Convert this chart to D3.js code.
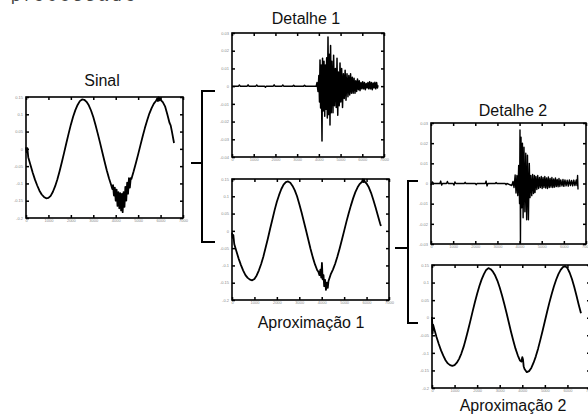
<!DOCTYPE html>
<html>
<head>
<meta charset="utf-8">
<script src="https://cdn.jsdelivr.net/npm/d3@7"></script>
<style>
body{margin:0;background:#fff;}
svg{display:block;}
</style>
</head>
<body>
<div id="chart"></div>
<script>
//Tick values shared by the panels
var xTicks=[0,1000,2000,3000,4000,5000,6000,7000];
var aproxTicks=[-0.2,-0.15,-0.1,-0.05,0,0.05,0.1,0.15];
var det1Ticks=[-0.04,-0.03,-0.02,-0.01,0,0.01,0.02,0.03];
var det2Ticks=[-0.03,-0.02,-0.01,0,0.01,0.02,0.03];

//Original signal [sample, value]
var sinal=[[0,0.004],[30,-0.01],[60,0.002],[100,-0.024],[200,-0.047],[300,-0.069],[400,-0.089],[500,-0.106],
 [600,-0.121],[700,-0.132],[800,-0.139],[900,-0.143],[1000,-0.142],[1100,-0.136],[1200,-0.124],[1300,-0.108],
 [1400,-0.088],[1500,-0.064],[1600,-0.038],[1700,-0.011],[1800,0.017],[1900,0.044],[2000,0.070],[2100,0.093],
 [2200,0.112],[2300,0.127],[2400,0.138],[2500,0.143],[2600,0.142],[2700,0.136],[2800,0.126],[2900,0.111],
 [3000,0.092],[3100,0.069],[3200,0.044],[3300,0.018],[3400,-0.009],[3500,-0.036],[3600,-0.062],[3700,-0.085],
 [3800,-0.105],[3850,-0.116],[3880,-0.105],[3920,-0.135],[3960,-0.112],[4000,-0.150],[4040,-0.118],[4080,-0.165],
 [4120,-0.125],[4160,-0.172],[4200,-0.128],[4240,-0.178],[4280,-0.130],[4310,-0.183],[4350,-0.125],[4390,-0.168],
 [4430,-0.110],[4470,-0.150],[4510,-0.098],[4550,-0.130],[4590,-0.085],[4630,-0.112],[4670,-0.085],[4700,-0.087],
 [4800,-0.065],[4900,-0.041],[5000,-0.016],[5100,0.010],[5200,0.036],[5300,0.060],[5400,0.082],[5500,0.102],
 [5600,0.118],[5700,0.131],[5800,0.139],[5850,0.146],[5880,0.138],[5910,0.149],[5940,0.140],[5970,0.147],
 [6000,0.142],[6100,0.135],[6200,0.123],[6300,0.100],[6400,0.075],[6450,0.068],[6500,0.052],[6600,0.017]];

//Level 1 detail
var detalhe1=[[0,0],[300,0],[340,0.0006],[380,0],[700,0],[740,0.0007],[780,0],[1100,0],[1140,0.0006],[1180,0],
 [1500,0],[1540,-0.0006],[1580,0],[1900,0],[1940,0.0007],[1980,0],[2300,0],[2340,0.0006],[2380,0],[2800,0],
 [2840,0.0005],[2880,0],[3300,0],[3340,0.0005],[3380,0],[3880,0],[3914,0.002],[3960,-0.003],[4000,0.006],[4030,-0.009],[4053,0.0147],
 [4080,-0.0124],[4110,0.012],[4145,-0.031],[4170,0.0158],[4200,-0.014],[4237,0.014],[4270,-0.017],[4300,0.012],
 [4330,-0.013],[4360,0.016],[4390,-0.018],[4421,0.0277],[4450,-0.016],[4480,0.018],[4513,-0.022],[4540,0.023],
 [4570,-0.015],[4600,0.014],[4651,-0.015],[4680,0.0175],[4720,-0.011],[4760,0.010],[4800,-0.012],[4836,0.0158],
 [4870,-0.0164],[4900,0.008],[4940,-0.011],[4974,0.013],[5010,-0.009],[5050,0.010],[5090,-0.012],[5130,0.007],
 [5170,-0.007],[5210,0.009],[5250,-0.008],[5296,0.007],[5340,-0.006],[5380,0.006],[5420,-0.005],[5460,0.007],
 [5500,-0.004],[5540,0.005],[5580,-0.004],[5620,0.0045],[5664,-0.004],[5700,0.003],[5740,-0.003],[5780,0.004],
 [5820,-0.002],[5860,0.003],[5895,-0.0025],[5940,0.002],[5980,-0.0015],[6020,0.0025],[6060,-0.0015],[6100,0.002],
 [6140,-0.002],[6180,0.0015],[6220,-0.001],[6260,0.002],[6300,-0.0015],[6340,0.0025],[6380,-0.0015],[6420,0.002],
 [6460,-0.002],[6500,0.0018],[6540,-0.001],[6580,0.0022],[6620,-0.0015],[6660,0.002],[6700,-0.001],[6724,0.0005]];

//Level 1 approximation
var aprox1=[[0,-0.005],[30,-0.02],[60,-0.012],[100,-0.038],[200,-0.060],[300,-0.081],[400,-0.099],[500,-0.115],
 [600,-0.128],[700,-0.136],[800,-0.141],[900,-0.143],[1000,-0.139],[1100,-0.129],[1200,-0.114],[1300,-0.096],
 [1400,-0.074],[1500,-0.048],[1600,-0.022],[1700,0.006],[1800,0.033],[1900,0.060],[2000,0.084],[2100,0.104],
 [2200,0.121],[2300,0.134],[2400,0.141],[2500,0.143],[2600,0.139],[2700,0.130],[2800,0.117],[2900,0.100],
 [3000,0.078],[3100,0.054],[3200,0.028],[3300,0.002],[3400,-0.025],[3500,-0.052],[3600,-0.076],[3700,-0.097],
 [3800,-0.114],[3850,-0.118],[3900,-0.128],[3940,-0.112],[3980,-0.135],[4010,-0.093],[4040,-0.140],[4080,-0.128],
 [4110,-0.160],[4150,-0.142],[4190,-0.171],[4230,-0.150],[4270,-0.165],[4300,-0.146],[4400,-0.126],[4500,-0.112],
 [4600,-0.095],[4700,-0.074],[4800,-0.051],[4900,-0.026],[5000,0.000],[5100,0.026],[5200,0.050],[5300,0.073],
 [5400,0.094],[5500,0.112],[5600,0.126],[5700,0.136],[5800,0.142],[5830,0.149],[5860,0.141],[5890,0.148],
 [5920,0.142],[6000,0.137],[6100,0.126],[6200,0.110],[6300,0.090],[6400,0.068],[6500,0.045],[6600,0.022],[6640,0.014]];

//Level 2 detail
var detalhe2=[[0,-0.0008],[60,0.0008],[120,0],[400,0],[440,0.0012],[480,-0.0008],[520,0],[700,0],[740,0.001],
 [780,0],[1000,0],[1040,-0.0008],[1080,0.0008],[1120,0],[1500,0],[1540,0.0006],[1580,0],[2000,0],[2040,-0.0006],
 [2080,0],[2450,0],[2490,0.0012],[2530,-0.0012],[2570,0],[2900,0],[2940,0.0005],[2980,0],[3350,0],[3390,-0.0006],
 [3430,0],[3650,-0.001],[3703,0.001],[3750,-0.002],[3800,0.0042],[3839,-0.0047],[3880,0.004],[3920,-0.006],[3960,0.009],
 [4000,-0.010],[4019,0.0265],[4040,-0.0295],[4065,0.023],[4100,-0.012],[4130,0.020],[4160,-0.017],[4200,0.018],
 [4240,-0.014],[4280,0.015],[4320,-0.018],[4358,0.014],[4400,-0.018],[4440,0.010],[4471,-0.007],[4510,0.004],
 [4550,-0.006],[4590,0.0045],[4630,-0.005],[4670,0.004],[4697,-0.0045],[4740,0.0035],[4780,-0.003],[4820,0.004],
 [4860,-0.0025],[4900,0.003],[4940,-0.002],[4980,0.0035],[5020,-0.0025],[5060,0.003],[5100,-0.002],[5140,0.0035],
 [5180,-0.0022],[5220,0.0028],[5260,-0.0025],[5300,0.0032],[5340,-0.002],[5380,0.0025],[5420,-0.0018],[5460,0.003],
 [5500,-0.002],[5540,0.0022],[5580,-0.0018],[5620,0.0028],[5660,-0.0015],[5700,0.002],[5740,-0.0016],[5780,0.0025],
 [5820,-0.0015],[5860,0.0018],[5916,-0.0012],[5960,0.002],[6000,-0.0014],[6050,0.0018],[6100,-0.0012],[6150,0.0016],
 [6200,-0.0013],[6250,0.0018],[6300,-0.001],[6350,0.0015],[6400,-0.0012],[6450,0.0017],[6500,-0.001],[6560,0.0018],
 [6594,-0.001],[6620,0.004],[6639,-0.003]];

//Level 2 approximation
var aprox2=[[0,0.002],[25,-0.045],[50,-0.02],[100,-0.032],[200,-0.055],[300,-0.075],[400,-0.093],[500,-0.108],
 [600,-0.121],[700,-0.130],[800,-0.135],[900,-0.137],[1000,-0.135],[1100,-0.128],[1200,-0.117],[1300,-0.102],
 [1400,-0.083],[1500,-0.060],[1600,-0.035],[1700,-0.009],[1800,0.018],[1900,0.044],[2000,0.068],[2100,0.090],
 [2200,0.109],[2300,0.124],[2400,0.136],[2500,0.141],[2600,0.138],[2700,0.131],[2800,0.120],[2900,0.105],
 [3000,0.086],[3100,0.064],[3200,0.040],[3300,0.014],[3400,-0.013],[3500,-0.040],[3600,-0.065],[3700,-0.088],
 [3800,-0.107],[3900,-0.122],[3960,-0.125],[4000,-0.112],[4030,-0.118],[4060,-0.138],[4100,-0.146],[4200,-0.155],
 [4300,-0.152],[4400,-0.143],[4500,-0.128],[4600,-0.110],[4700,-0.088],[4800,-0.063],[4900,-0.037],[5000,-0.010],
 [5100,0.017],[5200,0.043],[5300,0.067],[5400,0.089],[5500,0.108],[5600,0.124],[5700,0.136],[5800,0.144],
 [5900,0.147],[6000,0.141],[6100,0.128],[6200,0.110],[6300,0.088],[6400,0.063],[6500,0.037],[6600,0.013]];

//Set dimensions of svg
var w=588;
var h=414;

var svg=d3.select("#chart")
          .append("svg")
          .attr("width",w)
          .attr("height",h)
          .style("font-family","'Liberation Sans', Arial, sans-serif");

//Line of text above the figure, cut off by the top edge
svg.append("text")
   .text("processado")
   .attr("x",11)
   .attr("y",0.7)
   .attr("font-size",17)
   .attr("letter-spacing",4)
   .attr("fill","#444");

//Panel frames: box position, y ticks, trace width and caption
var panels=[
  {id:"sinal",   data:sinal,    yt:aproxTicks, sw:1.8, x:26,  y:97,  w:157, h:121, label:"Sinal",          lx:102, ly:86},
  {id:"det1",    data:detalhe1, yt:det1Ticks,  sw:1.5, x:232, y:33,  w:152, h:124, label:"Detalhe 1",      lx:306, ly:24},
  {id:"aprox1",  data:aprox1,   yt:aproxTicks, sw:1.8, x:232, y:179, w:157, h:121, label:"Aproximação 1",  lx:311, ly:328},
  {id:"det2",    data:detalhe2, yt:det2Ticks,  sw:1.4, x:431, y:123, w:155, h:121, label:"Detalhe 2",      lx:513, ly:116},
  {id:"aprox2",  data:aprox2,   yt:aproxTicks, sw:1.8, x:432, y:265, w:158, h:123, label:"Aproximação 2",  lx:513, ly:411}
];

panels.forEach(function(p) {
    var g=svg.append("g")
             .attr("id",p.id)
             .attr("transform","translate("+p.x+","+p.y+")");

    var x=d3.scaleLinear().domain([0,7000]).range([0,p.w]);
    var y=d3.scaleLinear().domain(d3.extent(p.yt)).range([p.h,0]);

    //Axes with inward ticks on all four sides
    var bottom=g.append("g").attr("transform","translate(0,"+p.h+")")
                .call(d3.axisBottom(x).tickValues(xTicks).tickSize(-3).tickPadding(2).tickFormat(function(d) {return String(d);}));
    var left=g.append("g")
              .call(d3.axisLeft(y).tickValues(p.yt).tickSize(-3).tickPadding(3).tickFormat(function(d) {return String(d);}));
    var top=g.append("g")
             .call(d3.axisTop(x).tickValues(xTicks).tickSize(-3).tickFormat(""));
    var right=g.append("g").attr("transform","translate("+p.w+",0)")
               .call(d3.axisRight(y).tickValues(p.yt).tickSize(-3).tickFormat(""));
    [bottom,left,top,right].forEach(function(a) {
        a.select(".domain").remove();
        a.selectAll("line").attr("stroke","#000").attr("stroke-width",1.5);
        a.selectAll("text").attr("font-size",4).attr("fill","#8a8a8a");
    });
    bottom.selectAll("text").attr("dy","0.4em");

    //Box
    g.append("rect")
     .attr("width",p.w)
     .attr("height",p.h)
     .attr("fill","none")
     .attr("stroke","#000")
     .attr("stroke-width",1.6);

    //Signal trace
    var line=d3.line()
               .x(function(d) {return x(d[0]);})
               .y(function(d) {return y(d[1]);});
    g.append("path")
     .datum(p.data)
     .attr("d",line)
     .attr("fill","none")
     .attr("stroke","#000")
     .attr("stroke-width",p.sw)
     .attr("stroke-linejoin","round");

    //Caption
    svg.append("text")
       .text(p.label)
       .attr("x",p.lx)
       .attr("y",p.ly)
       .attr("text-anchor","middle")
       .attr("font-size",16)
       .attr("fill","#111");
});

//Brackets linking each signal to its two components
var brackets=[
  {stub:[191,202], mid:163, bx:202, top:91,  bot:242, tip:215},
  {stub:[395,408], mid:248, bx:408, top:181, bot:323, tip:418}
];
brackets.forEach(function(b) {
    var path=d3.path();
    path.moveTo(b.stub[0],b.mid);
    path.lineTo(b.stub[1],b.mid);
    path.moveTo(b.tip,b.top);
    path.lineTo(b.bx,b.top);
    path.lineTo(b.bx,b.bot);
    path.lineTo(b.tip,b.bot);
    svg.append("path")
       .attr("d",path.toString())
       .attr("fill","none")
       .attr("stroke","#000")
       .attr("stroke-width",2);
});
</script>
</body>
</html>
